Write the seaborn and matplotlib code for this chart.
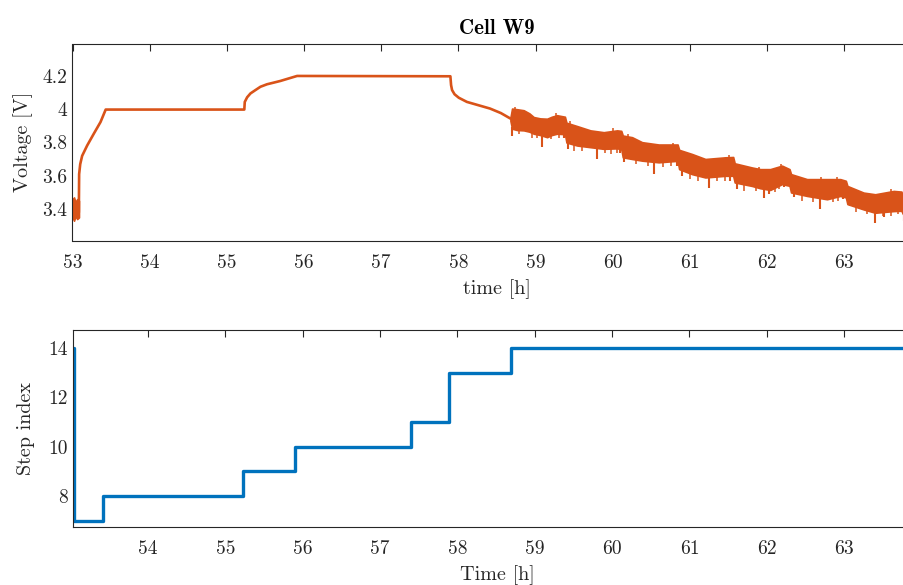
import numpy as np
import pandas as pd
import seaborn as sns
import matplotlib
matplotlib.use("Agg")
import matplotlib.pyplot as plt

# ---------------- data ----------------
# smooth part of the voltage trace [h], [V]
v_time = [53.082, 53.086, 53.10, 53.125, 53.19, 53.276, 53.363, 53.43,
          55.226, 55.232, 55.263, 55.306, 55.37, 55.435, 55.52, 55.608, 55.694,
          55.78, 55.91,
          57.896, 57.905, 57.918, 57.95, 58.005, 58.11, 58.26, 58.41, 58.55, 58.674]
v_volt = [3.38, 3.61, 3.67, 3.72, 3.782, 3.853, 3.923, 3.998,
          3.998, 4.044, 4.072, 4.095, 4.115, 4.135, 4.150, 4.160, 4.170,
          4.182, 4.200,
          4.198, 4.145, 4.115, 4.090, 4.069, 4.044, 4.024, 4.004, 3.977, 3.944]

# noisy start (band envelope)
start_time = [53.0, 53.02, 53.04, 53.06, 53.084]
start_hi = [3.46, 3.47, 3.44, 3.46, 3.45]
start_lo = [3.35, 3.33, 3.36, 3.34, 3.35]

# noisy discharge section (band envelope)
noise_time = [58.674, 58.695, 58.76, 58.846, 58.92, 58.976, 59.06, 59.149, 59.21,
              59.278, 59.38, 59.40, 59.537, 59.71, 59.883, 60.056, 60.11, 60.13,
              60.25, 60.38, 60.595, 60.84, 60.86, 61.027, 61.2, 61.459, 61.56,
              61.58, 61.804, 61.912, 62.04, 62.193, 62.29, 62.31, 62.517, 62.776,
              62.948, 63.02, 63.04, 63.25, 63.40, 63.64, 63.74, 63.76, 63.85]
noise_hi = [3.950, 4.004, 4.000, 3.994, 3.975, 3.953, 3.945, 3.943, 3.955,
            3.964, 3.955, 3.919, 3.899, 3.873, 3.862, 3.873, 3.870, 3.842,
            3.832, 3.802, 3.788, 3.788, 3.756, 3.731, 3.701, 3.711, 3.713,
            3.675, 3.650, 3.640, 3.640, 3.661, 3.640, 3.610, 3.580, 3.580,
            3.580, 3.570, 3.539, 3.499, 3.489, 3.509, 3.505, 3.470, 3.460]
noise_lo = [3.930, 3.883, 3.875, 3.873, 3.865, 3.853, 3.845, 3.832, 3.845,
            3.853, 3.850, 3.800, 3.782, 3.772, 3.762, 3.765, 3.760, 3.711,
            3.701, 3.691, 3.681, 3.690, 3.640, 3.610, 3.590, 3.600, 3.600,
            3.560, 3.539, 3.525, 3.515, 3.550, 3.540, 3.500, 3.479, 3.459,
            3.479, 3.470, 3.430, 3.398, 3.378, 3.388, 3.390, 3.370, 3.360]

# large downward spikes in the noisy section
spike_time = [58.70, 59.084, 59.37, 59.42, 59.797, 60.10, 60.15, 60.53, 60.83,
              60.90, 61.243, 61.52, 61.61, 61.955, 62.02, 62.22, 62.35, 62.69,
              62.98, 63.07, 63.40, 63.52, 63.77]
spike_volt = [3.842, 3.772, 3.83, 3.76, 3.701, 3.74, 3.68, 3.610, 3.66,
              3.60, 3.529, 3.57, 3.52, 3.469, 3.49, 3.53, 3.47, 3.398,
              3.46, 3.42, 3.317, 3.35, 3.33]

# smaller downward spikes
small_dn_time = [58.78, 58.95, 59.02, 59.20, 59.30, 59.50, 59.60, 59.90, 59.98,
                 60.05, 60.30, 60.45, 60.65, 60.75, 61.00, 61.10, 61.35, 61.45,
                 61.70, 61.85, 62.10, 62.15, 62.45, 62.60, 62.85, 62.92, 63.15,
                 63.30, 63.50, 63.60, 63.70]
small_dn_volt = [3.85, 3.83, 3.83, 3.82, 3.83, 3.75, 3.75, 3.74, 3.73,
                 3.74, 3.67, 3.66, 3.65, 3.66, 3.58, 3.57, 3.57, 3.57,
                 3.51, 3.51, 3.50, 3.52, 3.45, 3.44, 3.44, 3.45, 3.38,
                 3.37, 3.36, 3.36, 3.37]

# small upward spikes
small_up_time = [58.73, 59.27, 59.45, 60.00, 60.20, 60.78, 61.50, 61.90, 62.18,
                 62.70, 62.90, 63.60]
small_up_volt = [4.012, 3.975, 3.928, 3.885, 3.852, 3.800, 3.724, 3.652, 3.672,
                 3.592, 3.592, 3.520]

# step index
step_time = [53.042, 53.046, 53.418, 55.223, 55.904, 57.40, 57.895, 58.693, 64.0]
step_index = [14, 7, 8, 9, 10, 11, 13, 14, 14]

volt_ticks = [3.4, 3.6, 3.8, 4.0, 4.2]
volt_ticklabels = ["3.4", "3.6", "3.8", "4", "4.2"]
time_ticks_top = [53, 54, 55, 56, 57, 58, 59, 60, 61, 62, 63]
time_ticks_bottom = [54, 55, 56, 57, 58, 59, 60, 61, 62, 63]
step_ticks = [8, 10, 12, 14]

# ---------------- styling ----------------
sns.set_theme(style="white")
plt.rcParams["font.family"] = ["cmr10", "DejaVu Serif"]
plt.rcParams["mathtext.fontset"] = "cm"
plt.rcParams["axes.formatter.use_mathtext"] = True
plt.rcParams["axes.unicode_minus"] = False

ORANGE = "#D95319"
BLUE = "#0072BD"
AXC = "#262626"
W, H = 904, 585

fig = plt.figure(figsize=(W / 100, H / 100), dpi=100)
ax1 = fig.add_axes([72.5 / W, 1 - 240.7 / H, 849 / W, (240.7 - 44) / H])
ax2 = fig.add_axes([73 / W, 1 - 527.3 / H, 848.5 / W, (527.3 - 330) / H])

# ---- top: voltage ----
ax1.fill_between(start_time, start_lo, start_hi, color=ORANGE, lw=1.2, edgecolor=ORANGE)
sns.lineplot(x=v_time, y=v_volt, ax=ax1, color=ORANGE, lw=1.9,
             estimator=None, sort=False)
ax1.fill_between(noise_time, noise_lo, noise_hi, color=ORANGE, lw=1.2, edgecolor=ORANGE)
ax1.vlines(spike_time, spike_volt,
           np.interp(spike_time, noise_time, noise_lo) + 0.01,
           color=ORANGE, lw=1.5)
ax1.vlines(small_dn_time, small_dn_volt,
           np.interp(small_dn_time, noise_time, noise_lo) + 0.01,
           color=ORANGE, lw=1.1)
ax1.vlines(small_up_time, np.interp(small_up_time, noise_time, noise_hi) - 0.01,
           small_up_volt, color=ORANGE, lw=1.1)

ax1.set_xlim(53, 64)
ax1.set_ylim(3.21, 4.392)
ax1.set_xticks(time_ticks_top)
ax1.set_xticklabels([str(t) for t in time_ticks_top])
ax1.set_yticks(volt_ticks)
ax1.set_yticklabels(volt_ticklabels)
ax1.set_xlabel("time [h]", fontsize=14.5, color=AXC, labelpad=5)
ax1.set_ylabel("Voltage [V]", fontsize=14.5, color=AXC)
ax1.yaxis.set_label_coords(-0.047, 0.5)
ax1.set_title("Cell W9", fontsize=15, family="cmb10", color="black", pad=7)

# ---- bottom: step index ----
sns.lineplot(x=step_time, y=step_index, ax=ax2, color=BLUE, lw=2.4,
             drawstyle="steps-post", estimator=None, sort=False)
ax2.set_xlim(64 - 848.5 / 77.35, 64)
ax2.set_ylim(6.73, 14.74)
ax2.set_xticks(time_ticks_bottom)
ax2.set_xticklabels([str(t) for t in time_ticks_bottom])
ax2.set_yticks(step_ticks)
ax2.set_yticklabels([str(s) for s in step_ticks])
ax2.set_xlabel("Time [h]", fontsize=14.5, color=AXC, labelpad=5)
ax2.set_ylabel("Step index", fontsize=14.5, color=AXC)
ax2.yaxis.set_label_coords(-0.045, 0.5)

for ax in (ax1, ax2):
    for s in ax.spines.values():
        s.set_visible(True)
        s.set_color(AXC)
        s.set_linewidth(0.8)
    ax.tick_params(direction="in", length=5, width=0.8, top=True, right=True,
                   labelsize=14, colors=AXC)
    ax.tick_params(axis="x", pad=9.5)
    ax.tick_params(axis="y", pad=4)
    ax.grid(False)

fig.savefig("out.png", dpi=100)
